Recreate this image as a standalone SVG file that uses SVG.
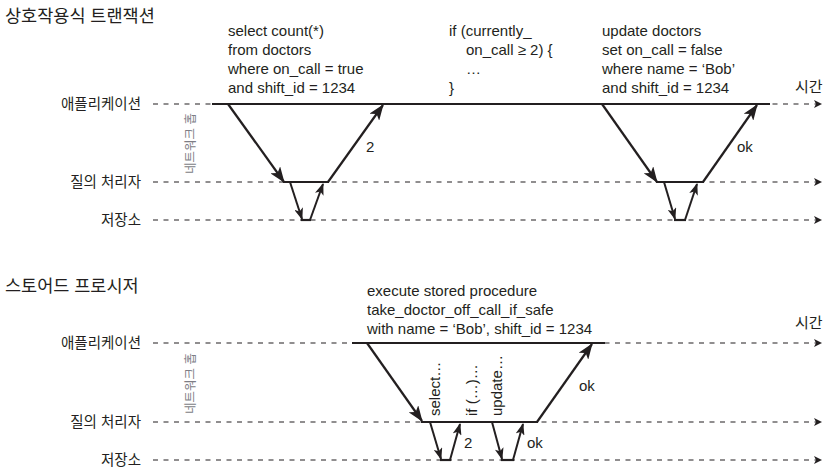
<svg xmlns="http://www.w3.org/2000/svg" width="836" height="473" viewBox="0 0 836 473">
<defs>
<style>
text{font-family:"Liberation Sans","Noto Sans CJK KR",sans-serif;fill:#231f20}
.title{font-size:17.5px}
.lbl{font-size:14.5px;text-anchor:end}
.code{font-size:15px}
.time{font-size:15px}
.hop{font-size:12.5px;fill:#7d7d85}
.dash{stroke:#231f20;stroke-width:1.2;stroke-dasharray:5 5.5;fill:none;marker-end:url(#tri)}
.solid{stroke:#231f20;stroke-width:2.2;fill:none}
.arr{stroke:#231f20;stroke-width:2.2;fill:none;marker-end:url(#big)}
.arrs{stroke:#231f20;stroke-width:2;fill:none;marker-end:url(#small)}
</style>
<marker id="tri" viewBox="0 0 8 8" refX="8" refY="4" markerWidth="8" markerHeight="8" markerUnits="userSpaceOnUse" orient="auto"><path d="M0,0 L8,4 L0,8 L2,4 z" fill="#231f20"/></marker>
<marker id="big" viewBox="0 0 16 12" refX="15" refY="6" markerWidth="16" markerHeight="12" markerUnits="userSpaceOnUse" orient="auto"><path d="M0,0 L16,6 L0,12 L4,6 z" fill="#231f20"/></marker>
<marker id="small" viewBox="0 0 12 9" refX="11" refY="4.5" markerWidth="12" markerHeight="9" markerUnits="userSpaceOnUse" orient="auto"><path d="M0,0 L12,4.5 L0,9 L3,4.5 z" fill="#231f20"/></marker>
</defs>

<!-- Interactive transaction -->
<g id="title-interactive"><text class="title" x="5" y="22">상호작용식 트랜잭션</text></g>
<g id="lane-app-1"><text class="lbl" x="141" y="109">애플리케이션</text></g>
<g id="lane-qp-1"><text class="lbl" x="141" y="187">질의 처리자</text></g>
<g id="lane-st-1"><text class="lbl" x="141" y="225">저장소</text></g>
<g id="time-1"><text class="time" x="795" y="92">시간</text></g>
<g id="hop-1"><text class="hop" transform="translate(195,174) rotate(-90)">네트워크 홉</text></g>

<g id="q1-text">
<text class="code" x="228" y="36">select count(*)</text>
<text class="code" x="228" y="55">from doctors</text>
<text class="code" x="228" y="74">where on_call = true</text>
<text class="code" x="228" y="93">and shift_id = 1234</text>
</g>
<g id="if-text">
<text class="code" x="449" y="36">if (currently_</text>
<text class="code" x="466" y="55">on_call ≥ 2) {</text>
<text class="code" x="466" y="74">…</text>
<text class="code" x="449" y="93">}</text>
</g>
<g id="q2-text">
<text class="code" x="602" y="36">update doctors</text>
<text class="code" x="602" y="55">set on_call = false</text>
<text class="code" x="602" y="74">where name = ‘Bob’</text>
<text class="code" x="602" y="93">and shift_id = 1234</text>
</g>

<g id="connectors-1">
<path class="dash" d="M153,104 H822"/>
<path class="dash" d="M153,182 H822"/>
<path class="dash" d="M153,220 H822"/>
<path class="solid" d="M212,104 H770"/>
<path class="arr" d="M228,104 L284,182"/>
<path class="solid" d="M283,182 H329"/>
<path class="arr" d="M328,182 L383,105"/>
<path class="arrs" d="M290,182 L302,219"/>
<path class="solid" d="M301,220 H311"/>
<path class="arrs" d="M310,220 L323,184"/>
<path class="arr" d="M602,104 L657,182"/>
<path class="solid" d="M656,182 H704"/>
<path class="arr" d="M703,182 L757,105"/>
<path class="arrs" d="M664,182 L675,219"/>
<path class="solid" d="M674,220 H686"/>
<path class="arrs" d="M685,220 L697,184"/>
<text class="code" x="366" y="152">2</text>
<text class="code" x="737" y="152">ok</text>
</g>

<!-- Stored procedure -->
<g id="title-stored"><text class="title" x="5" y="292">스토어드 프로시저</text></g>
<g id="lane-app-2"><text class="lbl" x="141" y="348">애플리케이션</text></g>
<g id="lane-qp-2"><text class="lbl" x="141" y="427">질의 처리자</text></g>
<g id="lane-st-2"><text class="lbl" x="141" y="465">저장소</text></g>
<g id="time-2"><text class="time" x="795" y="328">시간</text></g>
<g id="hop-2"><text class="hop" transform="translate(195,414) rotate(-90)">네트워크 홉</text></g>

<g id="sp-text">
<text class="code" x="367" y="296">execute stored procedure</text>
<text class="code" x="367" y="315">take_doctor_off_call_if_safe</text>
<text class="code" x="367" y="334">with name = ‘Bob’, shift_id = 1234</text>
</g>

<g id="connectors-2">
<path class="dash" d="M153,343 H822"/>
<path class="dash" d="M153,422 H822"/>
<path class="dash" d="M153,460 H822"/>
<path class="solid" d="M352,343 H605"/>
<path class="arr" d="M367,343 L422,421"/>
<path class="solid" d="M421,422 H538"/>
<path class="arr" d="M537,422 L592,344"/>
<path class="arrs" d="M430,422 L441,459"/>
<path class="solid" d="M440,460 H451"/>
<path class="arrs" d="M450,460 L460,424"/>
<path class="arrs" d="M492,422 L502,459"/>
<path class="solid" d="M501,460 H514"/>
<path class="arrs" d="M513,460 L523,424"/>
<text class="code" x="579" y="391">ok</text>
<text class="code" x="464" y="448">2</text>
<text class="code" x="527" y="448">ok</text>
<text class="code" transform="translate(440,416) rotate(-90)">select…</text>
<text class="code" transform="translate(477,416) rotate(-90)">if (…)…</text>
<text class="code" transform="translate(502,416) rotate(-90)">update…</text>
</g>
</svg>
